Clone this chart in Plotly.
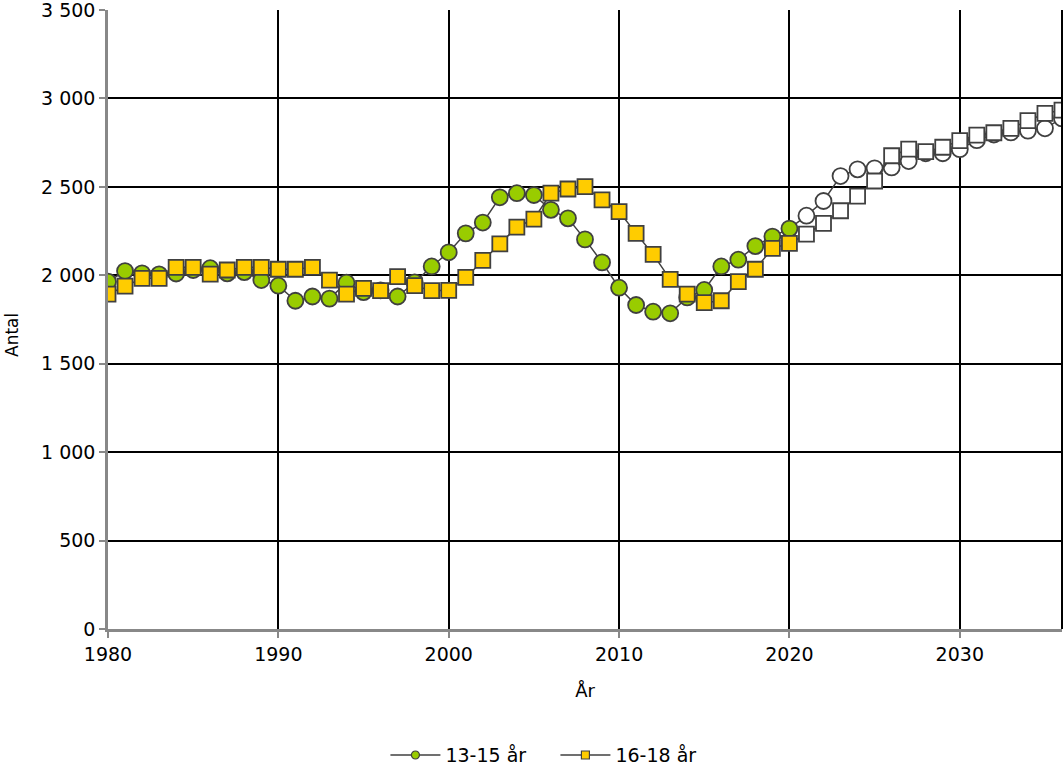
import plotly.graph_objects as go

years = list(range(1980, 2037))
last_actual = 2020

age_13_15 = [1964, 2024, 2011, 2005, 2010, 2030, 2040, 2011, 2018, 1973,
             1941, 1856, 1880, 1868, 1958, 1905, 1915, 1880, 1960, 2050,
             2130, 2237, 2298, 2441, 2464, 2454, 2370, 2322, 2203, 2073,
             1930, 1832, 1794, 1785, 1875, 1917, 2050, 2088, 2165, 2219,
             2264, 2337, 2420, 2561, 2599, 2605, 2610, 2646, 2690, 2690,
             2713, 2764, 2796, 2808, 2818, 2831, 2887]

age_16_18 = [1893, 1939, 1983, 1983, 2045, 2045, 2007, 2030, 2045, 2045,
             2034, 2034, 2045, 1973, 1894, 1926, 1913, 1992, 1941, 1913,
             1915, 1988, 2084, 2178, 2272, 2318, 2464, 2488, 2501, 2426,
             2360, 2237, 2118, 1977, 1894, 1845, 1856, 1964, 2034, 2152,
             2180, 2233, 2294, 2365, 2448, 2533, 2676, 2713, 2699, 2724,
             2761, 2793, 2806, 2831, 2874, 2915, 2934]

series = [
    ("13-15 år", age_13_15, "circle", "#99CC00"),
    ("16-18 år", age_16_18, "square", "#FFCC00"),
]

LINE = "#404040"
FONT = "DejaVu Sans"

fig = go.Figure()
for name, vals, symbol, color in series:
    colors = [color if y <= last_actual else "#FFFFFF" for y in years]
    fig.add_trace(go.Scatter(
        x=years, y=vals, mode="lines+markers", name=name, showlegend=False,
        line=dict(color=LINE, width=1.5),
        marker=dict(symbol=symbol, size=16 if symbol == "circle" else 15,
                    color=colors, line=dict(color=LINE, width=1.8)),
    ))
    fig.add_trace(go.Scatter(
        x=[None], y=[None], mode="lines+markers", name=name,
        line=dict(color=LINE, width=1.5),
        marker=dict(symbol=symbol, size=8, color=color,
                    line=dict(color=LINE, width=1.2)),
    ))

fig.update_layout(
    width=1064, height=769,
    margin=dict(l=108, r=2, t=10, b=140, autoexpand=False),
    plot_bgcolor="white", paper_bgcolor="white",
    separators=", ",
    font=dict(family=FONT, size=18, color="#000000"),
    showlegend=True,
    legend=dict(orientation="h", x=0.469, xanchor="center",
                yref="container", y=0.018, yanchor="middle",
                font=dict(size=19), traceorder="normal",
                entrywidth=105, entrywidthmode="pixels", itemwidth=50),
    xaxis=dict(
        range=[1980, 2036], tickmode="linear", tick0=1980, dtick=10,
        showgrid=True, gridcolor="#000000", gridwidth=1.5,
        showline=True, linecolor="#888888", linewidth=2.5,
        ticks="outside", ticklen=6, tickcolor="#888888", tickwidth=2,
        mirror=False, zeroline=False, automargin=False,
        ticklabeloverflow="allow",
        tickfont=dict(size=19),
        title=dict(text="År", font=dict(size=18), standoff=21),
    ),
    yaxis=dict(
        range=[0, 3500], tickmode="linear", tick0=0, dtick=500,
        tickformat=",d", automargin=False, ticklabeloverflow="allow",
        showgrid=True, gridcolor="#000000", gridwidth=1.5,
        showline=True, linecolor="#888888", linewidth=2.5,
        ticks="outside", ticklen=6, tickcolor="#888888", tickwidth=2,
        zeroline=False, tickfont=dict(size=19),
    ),
    annotations=[dict(text="Antal", xref="paper", yref="paper",
                      x=-0.1006, y=0.475, textangle=-90, showarrow=False,
                      xanchor="center", yanchor="middle",
                      font=dict(size=17))],
    shapes=[dict(type="line", xref="paper", yref="paper", x0=1, x1=1,
                 y0=0, y1=1, line=dict(color="#000000", width=2))],
)

fig.write_html(
    "out.html",
    config={"displayModeBar": False},
    post_script="document.body.style.margin='0';document.body.style.overflow='hidden';",
)
